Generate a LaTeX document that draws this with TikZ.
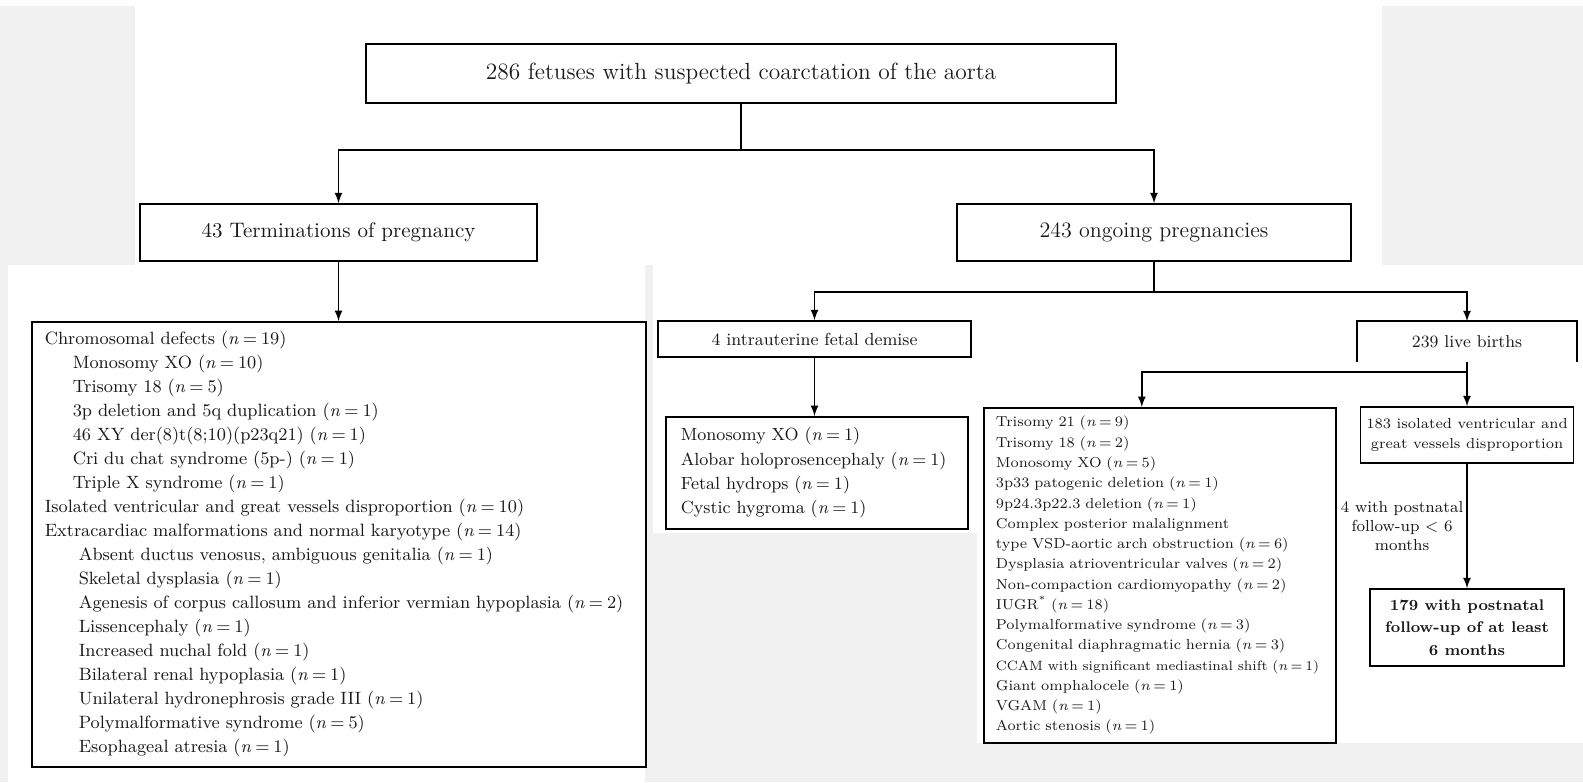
\documentclass[tikz,border=0pt]{standalone}
\usepackage{fontspec}
\usetikzlibrary{arrows, positioning}
\definecolor{panelgray}{HTML}{F1F1F1}
\newcommand{\nn}[1]{(\textit{n}\:=\:#1)}

\begin{document}
\begin{tikzpicture}[
  x=0.5pt, y=-0.5pt,
  >=latex, line width=0.8pt,
  box/.style={rectangle, draw, inner sep=0pt, text=black!90},
  toplevel/.style={box, minimum width=375pt, minimum height=29.5pt, font=\fontsize{11.7}{13}\selectfont},
  branch/.style={box, minimum height=28.5pt, font=\fontsize{10.5}{12.5}\selectfont},
  outcome/.style={box, minimum height=18pt, font=\fontsize{8.7}{11}\selectfont},
  listbox/.style={box, align=left, anchor=north west},
  smallbox/.style={box, align=center, font=\fontsize{7.25}{10}\selectfont}]

  \useasboundingbox (0,0) rectangle (1583,782);
  \fill[panelgray] (0,0) rectangle (1583,782);
  \fill[white] (0,0) rectangle (1583,6);
  \fill[white] (135,0) rectangle (1382,265);
  \fill[white] (8,265) rectangle (645,782);
  \fill[white] (653,265) rectangle (1583,361);
  \fill[white] (653,361) rectangle (977,533);
  \fill[white] (977,361) rectangle (1583,743);

  \node[toplevel] (root) at (741,73.5) {286 fetuses with suspected coarctation of the aorta};
  \node[branch, minimum width=198.5pt] (term) at (338.5,232.5) {43 Terminations of pregnancy};
  \node[branch, minimum width=197pt, font=\fontsize{11}{13}\selectfont] (ongoing) at (1154,232.5) {243 ongoing pregnancies};
  \node[outcome, minimum width=156.5pt] (idem) at (814.5,339) {4 intrauterine fetal demise};
  \node[outcome, draw=none, minimum width=109pt, minimum height=19.5pt,
        font=\fontsize{8.6}{11}\selectfont] (live) at (1467,341.5) {239 live births};

  \node[listbox, inner xsep=6.5pt, text width=294pt, minimum height=222.5pt,
        font=\fontsize{8.9}{12}\selectfont] (chromo) at (31,321) {%
    Chromosomal defects \nn{19}\\
    \hspace*{14pt}Monosomy XO \nn{10}\\
    \hspace*{14pt}Trisomy 18 \nn{5}\\
    \hspace*{14pt}3p deletion and 5q duplication \nn{1}\\
    \hspace*{14pt}46 XY der(8)t(8;10)(p23q21) \nn{1}\\
    \hspace*{14pt}Cri du chat syndrome (5p-) \nn{1}\\
    \hspace*{14pt}Triple X syndrome \nn{1}\\
    Isolated ventricular and great vessels disproportion \nn{10}\\
    Extracardiac malformations and normal karyotype \nn{14}\\
    \hspace*{17pt}Absent ductus venosus, ambiguous genitalia \nn{1}\\
    \hspace*{17pt}Skeletal dysplasia \nn{1}\\
    \hspace*{17pt}Agenesis of corpus callosum and inferior vermian hypoplasia \nn{2}\\
    \hspace*{17pt}Lissencephaly \nn{1}\\
    \hspace*{17pt}Increased nuchal fold \nn{1}\\
    \hspace*{17pt}Bilateral renal hypoplasia \nn{1}\\
    \hspace*{17pt}Unilateral hydronephrosis grade III \nn{1}\\
    \hspace*{17pt}Polymalformative syndrome \nn{5}\\
    \hspace*{17pt}Esophageal atresia \nn{1}};

  \node[listbox, inner xsep=7.5pt, text width=136pt, minimum height=56pt,
        font=\fontsize{8.8}{12.2}\selectfont] (mono) at (665,416) {%
    Monosomy XO \nn{1}\\
    Alobar holoprosencephaly \nn{1}\\
    Fetal hydrops \nn{1}\\
    Cystic hygroma \nn{1}};

  \node[listbox, inner xsep=6pt, text width=164pt, minimum height=167.5pt,
        font=\fontsize{7.2}{10.13}\selectfont] (trisomy) at (983,407) {%
    Trisomy 21 \nn{9}\\
    Trisomy 18 \nn{2}\\
    Monosomy XO \nn{5}\\
    3p33 patogenic deletion \nn{1}\\
    9p24.3p22.3 deletion \nn{1}\\
    Complex posterior malalignment\\
    type VSD-aortic arch obstruction \nn{6}\\
    Dysplasia atrioventricular valves \nn{2}\\
    Non-compaction cardiomyopathy \nn{2}\\
    IUGR\textsuperscript{*} \nn{18}\\
    Polymalformative syndrome \nn{3}\\
    Congenital diaphragmatic hernia \nn{3}\\
    \mbox{\fontsize{6.75}{10.13}\selectfont CCAM with significant mediastinal shift \nn{1}}\\
    Giant omphalocele \nn{1}\\
    VGAM \nn{1}\\
    Aortic stenosis \nn{1}};

  \node[smallbox, minimum width=106.5pt, minimum height=28pt] (iso) at (1467,435)
    {183 isolated ventricular and\\great vessels disproportion};
  \node[smallbox, minimum width=97pt, minimum height=38.5pt,
        font=\fontsize{7.7}{11.2}\selectfont\bfseries] (followed) at (1467,627.5)
    {179 with postnatal\\follow-up of at least\\6 months};

  \coordinate (split) at (741,150);
  \coordinate (splitb) at (1154,292);
  \coordinate (splitc) at (1467,372);

  \draw (root) -- (split);
  \draw[->] (split) -| (term);
  \draw[->] (split) -| (ongoing);
  \draw[->] (term) -- (term |- chromo.north);
  \draw (ongoing) -- (splitb);
  \draw[->] (splitb) -| (idem);
  \draw[->] (splitb) -| (live);
  \draw[->] (idem) -- (idem |- mono.north);
  \draw (live.south west) -- (live.north west) -- (live.north east) -- (live.south east);
  \draw (live) -- (splitc);
  \draw[->] (splitc) -| ([xshift=-9pt]trisomy.north);
  \draw[->] (splitc) -- (iso);
  \draw[->] (iso) -- node[midway, left=1.5pt, inner sep=0pt, align=center, text=black!90,
        font=\fontsize{8}{9.5}\selectfont] (lost) {4 with postnatal\\follow-up < 6\\months} (followed);
\end{tikzpicture}
\end{document}
